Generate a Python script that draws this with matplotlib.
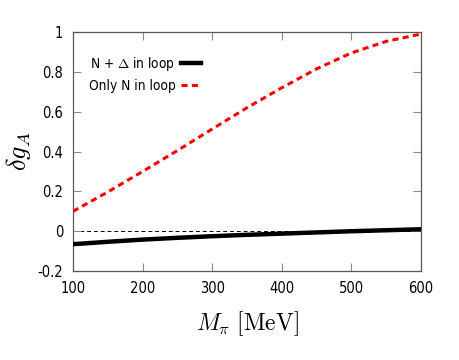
import matplotlib
matplotlib.use("Agg")
import matplotlib.pyplot as plt
from matplotlib.font_manager import FontProperties
from matplotlib.ticker import FuncFormatter

# pion mass (MeV) and axial coupling shift
m_pi = [100, 150, 200, 250, 300, 350, 400, 450, 500, 550, 600]
only_n = [0.10, 0.197, 0.30, 0.405, 0.513, 0.62, 0.72, 0.815, 0.895, 0.953, 0.99]
n_delta = [-0.065, -0.053, -0.042, -0.033, -0.025, -0.018, -0.012, -0.006, 0.0, 0.005, 0.01]

plt.rcParams["mathtext.fontset"] = "cm"
plt.rcParams["axes.unicode_minus"] = False
tick_fp = FontProperties(family="DejaVu Sans", stretch="condensed", size=10.5)
leg_fp = FontProperties(family="DejaVu Sans", stretch="condensed", size=9.8)

fig = plt.figure(figsize=(4.59, 3.6), dpi=100)
ax = fig.add_axes([0.159, 0.247, 0.758, 0.664])

ax.axhline(0, color="black", lw=0.7, ls=(0, (4, 3)), zorder=1)
ax.plot(m_pi, n_delta, color="black", lw=3.2, label=r"N + $\Delta$ in loop", zorder=3)
ax.plot(m_pi, only_n, color="red", lw=2.2, ls=(0, (2.0, 1.4)), label="Only N in loop", zorder=3)

ax.set_xlim(100, 600)
ax.set_ylim(-0.2, 1.0)
ax.set_xticks([100, 200, 300, 400, 500, 600])
ax.set_yticks([-0.2, 0, 0.2, 0.4, 0.6, 0.8, 1.0])
ax.yaxis.set_major_formatter(FuncFormatter(lambda v, p: f"{v:g}"))
ax.tick_params(direction="in", top=True, right=True, length=6, width=0.8,
               color="0.55", pad=7)
for lab in ax.get_xticklabels() + ax.get_yticklabels():
    lab.set_fontproperties(tick_fp)
for sp in ax.spines.values():
    sp.set_color("0.35")
    sp.set_linewidth(0.9)

ax.set_xlabel(r"$M_\pi\ [\mathrm{MeV}]$", fontsize=17, labelpad=10)
ax.set_ylabel(r"$\delta g_A$", fontsize=19)
ax.yaxis.set_label_coords(-0.115, 0.5)

ax.legend(loc="upper left", bbox_to_anchor=(0.01, 0.955), frameon=False,
          markerfirst=False, handlelength=1.5, handletextpad=0.4,
          labelspacing=0.45, prop=leg_fp)

fig.savefig("out.png", dpi=100)
